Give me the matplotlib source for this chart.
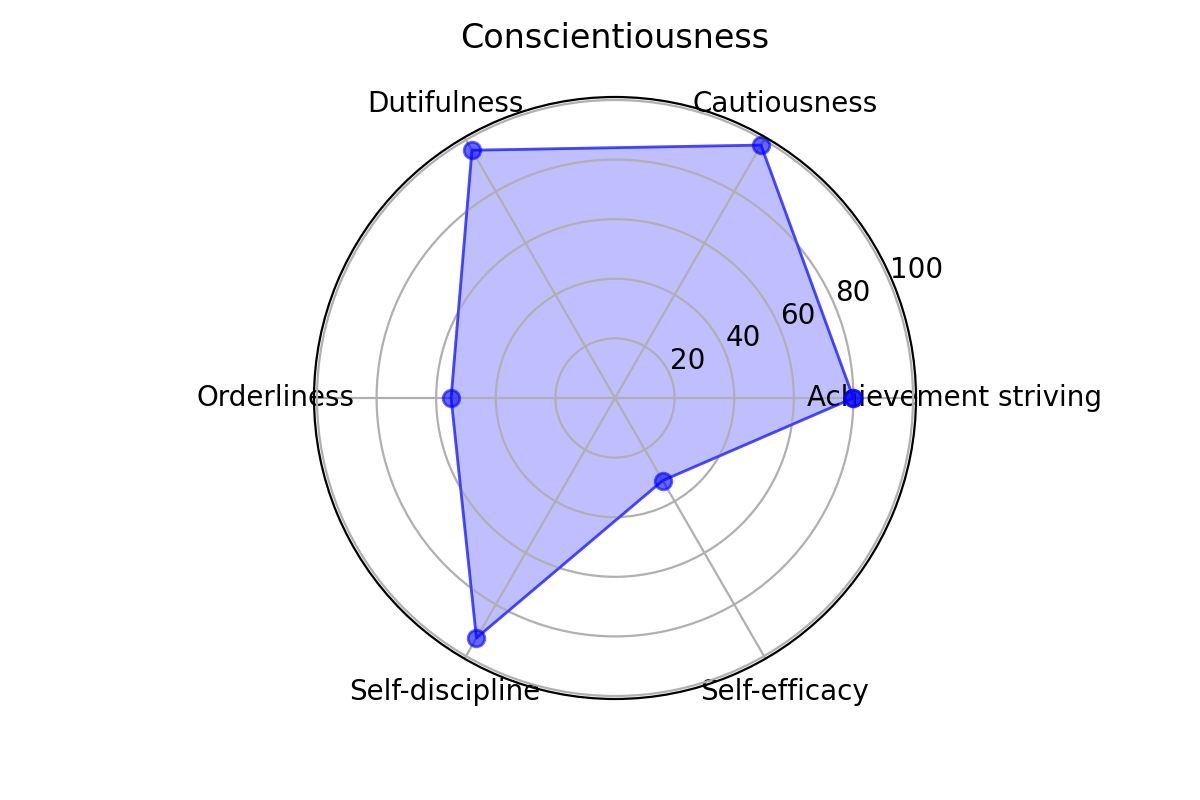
import numpy as np
import matplotlib
matplotlib.use('Agg')
import matplotlib.pyplot as plt

# Conscientiousness facets
categories = ['Achievement striving', 'Cautiousness', 'Dutifulness',
              'Orderliness', 'Self-discipline', 'Self-efficacy']
scores = [80, 98, 96, 55, 93, 32]
r_ticks = [20, 40, 60, 80, 100]

angles = np.linspace(0, 2 * np.pi, len(categories), endpoint=False)
# close the polygon
angles_closed = np.concatenate([angles, angles[:1]])
scores_closed = scores + scores[:1]

fig = plt.figure(figsize=(6, 4), dpi=200)
ax = fig.add_axes([0.26167, 0.12625, 0.50167, 0.7525], polar=True)

ax.plot(angles_closed, scores_closed, 'o-', color='blue', alpha=0.6, linewidth=1, markersize=6)
ax.fill(angles_closed, scores_closed, color='blue', alpha=0.25)

ax.set_xticks(angles)
ax.set_xticklabels(categories)
ax.set_yticks(r_ticks)
ax.set_ylim(0, 101)
ax.set_title('Conscientiousness', pad=17.5)

plt.savefig('out.png', dpi=200)
